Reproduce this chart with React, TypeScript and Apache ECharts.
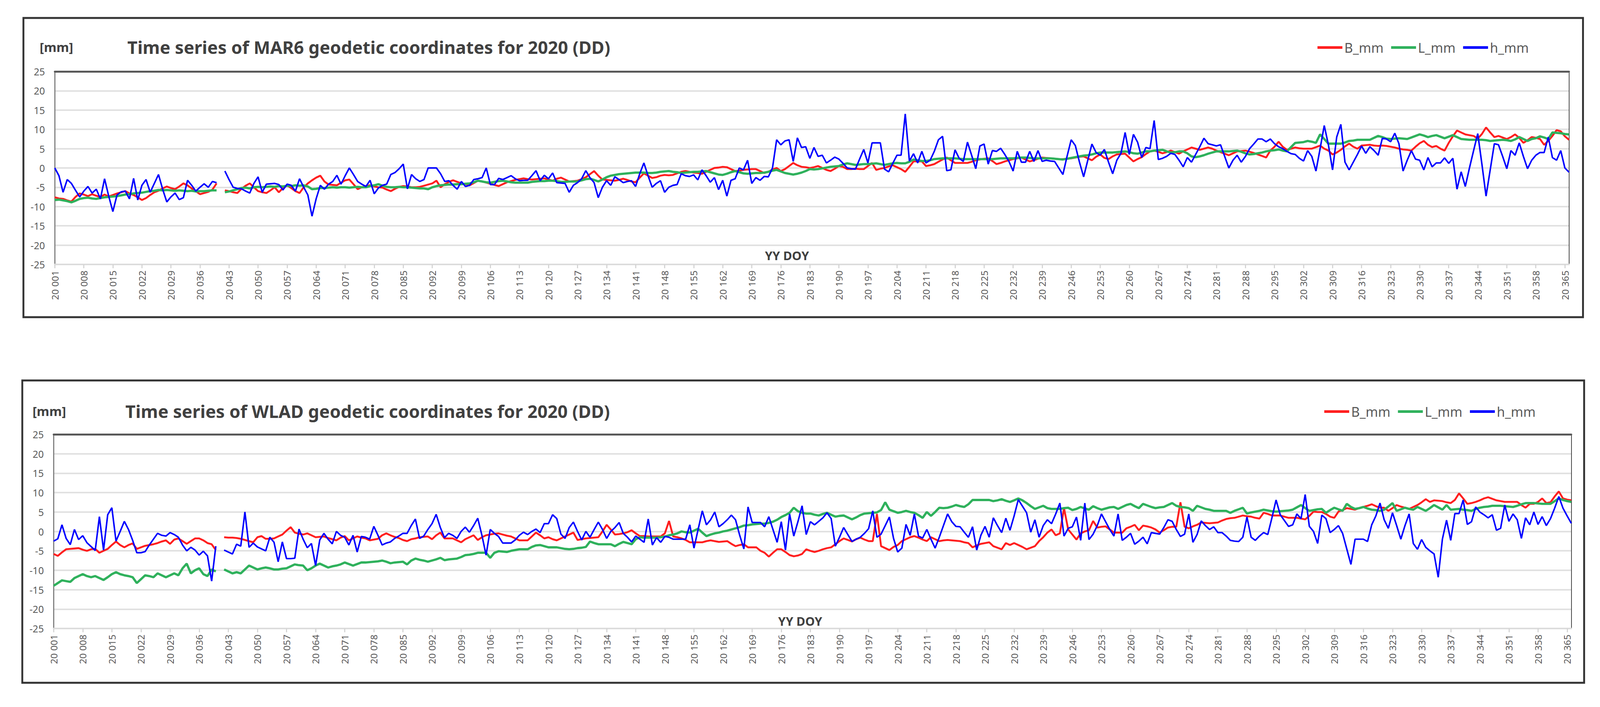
import React, { useEffect, useRef } from 'react';
import * as echarts from 'echarts';

// ---------- categories (day of year 2020, leap year) ----------
const DAYS: string[] = Array.from({ length: 366 }, (_, i) => `20 ${String(i + 1).padStart(3, '0')}`);
const SERIES_NAMES = ['B_mm', 'L_mm', 'h_mm'];
const Y_MIN = -25;
const Y_MAX = 25;
const Y_STEP = 5;

// ---------- MAR6 ----------
const MAR6_B: (number | null)[] = [
  -7.6,-7.9,-8.0,-8.4,-8.7,-7.5,-6.6,-6.9,-7.3,-6.8,
  -7.2,-7.5,-6.9,-7.4,-7.0,-6.6,-6.3,-6.0,-6.6,-7.0,
  -7.6,-8.3,-7.8,-7.0,-6.3,-5.9,-5.3,-4.8,-5.2,-5.5,
  -4.8,-4.0,-4.5,-5.3,-6.0,-6.8,-6.5,-6.2,-5.6,-4.0,
  null,-5.8,-6.0,-6.3,-6.5,-5.4,-4.6,-4.0,-5.0,-6.0,
  -6.3,-6.5,-5.8,-5.0,-6.3,-5.2,-4.5,-5.2,-6.0,-6.5,
  -5.0,-4.0,-3.2,-2.5,-2.0,-3.5,-4.3,-4.4,-4.5,-3.8,
  -3.2,-3.0,-4.2,-5.5,-5.0,-4.7,-4.5,-4.8,-5.0,-5.1,
  -5.6,-6.0,-5.4,-4.9,-4.7,-4.8,-5.0,-5.0,-4.9,-4.6,
  -4.3,-4.0,-3.3,-5.0,-4.2,-3.6,-3.2,-3.6,-4.0,-4.2,
  -4.5,-3.9,-3.3,-3.5,-3.8,-4.1,-4.4,-4.7,-4.2,-3.7,
  -3.4,-3.1,-2.9,-2.7,-2.9,-3.0,-2.9,-2.8,-2.7,-3.0,
  -3.3,-2.8,-2.5,-3.0,-3.5,-3.4,-3.3,-2.9,-2.4,-1.6,
  -0.8,-2.0,-3.0,-3.1,-3.2,-3.3,-3.1,-2.8,-3.1,-3.5,
  -3.7,-2.5,-1.4,-2.0,-2.6,-2.4,-2.0,-1.8,-1.9,-1.8,
  -1.4,-1.0,-0.8,-1.0,-1.2,-1.3,-1.5,-1.0,-0.5,0.0,
  0.1,0.3,0.2,-0.3,-0.8,-0.7,-0.5,-0.4,-0.3,-0.3,
  -0.8,-1.3,-1.0,-0.4,0.0,-0.8,-0.3,0.5,1.3,0.7,
  0.3,0.2,0.0,0.2,0.5,0.0,-0.5,-0.8,-0.2,0.5,
  0.3,-0.3,-0.3,-0.2,-0.3,-0.3,0.5,1.3,-0.5,-0.2,
  0.0,0.4,0.7,0.2,-0.3,-1.0,0.3,1.7,1.7,1.7,
  0.5,0.7,1.0,1.6,2.2,2.7,2.0,1.3,1.3,1.3,
  1.3,1.6,2.0,2.2,2.4,2.5,1.8,1.0,1.3,1.7,
  2.0,2.3,2.5,2.7,2.2,1.7,2.0,2.4,2.7,2.6,
  2.5,2.4,2.3,2.3,2.4,2.5,2.7,2.9,3.0,2.5,
  2.0,2.9,3.5,2.6,2.3,3.0,3.5,3.6,3.7,2.7,
  1.7,2.3,2.8,3.6,4.3,4.5,4.2,3.8,4.1,4.5,
  4.1,3.7,4.3,4.8,5.3,5.0,4.7,5.0,5.3,5.0,
  4.5,4.1,3.7,3.3,3.8,4.3,4.4,4.5,4.2,3.9,
  3.5,3.1,2.7,4.5,5.5,6.8,5.5,4.7,5.0,5.3,
  5.1,5.0,5.0,5.0,5.4,5.8,5.0,4.5,3.5,4.0,
  4.7,5.6,6.3,5.5,5.0,5.8,5.9,6.0,5.8,5.7,
  5.8,5.7,5.5,5.3,5.0,4.8,4.7,4.5,5.5,6.4,
  7.0,6.0,5.4,5.7,5.0,4.5,6.5,8.2,9.7,9.2,
  8.7,8.5,8.3,7.6,8.8,10.5,9.2,8.0,8.3,7.9,
  7.5,8.0,8.7,7.8,6.5,7.2,8.0,7.8,7.5,6.0,
  7.0,8.3,9.8,9.5,8.2,7.3,
];

const MAR6_L: (number | null)[] = [
  -8.3,-8.2,-8.4,-8.6,-8.9,-8.5,-8.0,-7.8,-7.7,-7.9,
  -8.0,-7.8,-7.6,-7.5,-7.4,-7.3,-7.1,-6.9,-6.8,-6.6,
  -6.5,-6.4,-6.2,-6.0,-5.9,-5.7,-5.8,-5.7,-5.8,-5.9,
  -5.8,-5.9,-6.0,-5.9,-6.1,-6.0,-6.0,-5.9,-5.8,-5.8,
  null,-6.3,-6.1,-5.8,-5.5,-5.2,-5.1,-5.3,-5.0,-4.9,
  -5.0,-4.9,-4.8,-4.9,-4.7,-4.8,-4.6,-4.7,-4.5,-4.6,
  -4.5,-4.8,-5.5,-5.4,-5.2,-5.2,-5.1,-5.0,-5.1,-5.0,
  -5.0,-5.1,-5.0,-4.9,-5.0,-5.0,-4.7,-4.5,-4.2,-4.6,
  -4.9,-5.0,-5.0,-4.9,-5.0,-5.0,-5.1,-5.2,-5.3,-5.3,
  -5.5,-5.0,-4.7,-4.5,-4.4,-4.3,-4.3,-4.2,-4.2,-4.1,
  -4.0,-3.7,-3.3,-3.5,-3.7,-3.8,-3.6,-3.4,-3.3,-3.5,
  -3.7,-3.8,-3.8,-3.8,-3.8,-3.6,-3.5,-3.4,-3.4,-3.3,
  -3.3,-3.4,-3.6,-3.6,-3.5,-3.5,-3.5,-3.2,-2.9,-2.8,
  -3.1,-3.5,-3.0,-2.4,-2.0,-1.8,-1.6,-1.5,-1.4,-1.3,
  -1.2,-1.2,-1.2,-1.3,-1.3,-1.2,-1.0,-0.9,-0.8,-1.0,
  -1.1,-1.3,-1.2,-1.1,-1.0,-1.0,-0.9,-0.8,-1.1,-1.4,
  -1.7,-1.8,-1.5,-1.1,-0.8,-1.1,-1.4,-1.5,-1.4,-1.3,
  -1.3,-1.2,-1.0,-0.7,-0.5,-0.9,-1.3,-1.5,-1.7,-1.5,
  -1.2,-0.8,-0.3,-0.4,-0.3,-0.1,0.1,0.3,0.4,0.5,
  0.9,1.2,1.0,0.8,0.9,1.0,1.0,1.1,1.2,1.0,
  0.8,1.0,1.2,1.3,1.2,1.2,1.6,2.2,2.0,1.8,
  1.8,2.0,2.3,2.4,2.5,2.5,2.5,2.5,2.4,2.3,
  2.3,2.3,2.3,2.3,2.3,2.3,2.3,2.4,2.5,2.5,
  2.5,2.5,2.6,2.7,2.7,2.6,2.5,2.5,2.5,2.5,
  2.5,2.4,2.3,2.2,2.4,2.6,2.8,3.0,3.2,3.3,
  3.5,3.8,4.0,4.0,4.0,4.0,4.1,4.2,4.3,4.1,
  3.8,3.7,4.0,4.3,4.3,4.5,4.6,4.7,4.3,4.0,
  4.1,4.3,4.3,3.8,3.0,2.8,3.0,3.3,3.7,4.0,
  4.3,4.3,4.3,4.3,4.4,4.5,4.2,3.8,3.5,3.6,
  3.8,4.0,4.3,4.5,4.6,4.8,4.5,4.3,5.4,6.5,
  6.6,6.7,7.0,6.8,6.5,8.7,7.5,6.3,6.3,6.3,
  6.3,6.6,7.0,7.1,7.3,7.3,7.3,7.3,7.8,8.3,
  8.0,7.6,7.5,7.6,7.7,7.6,7.5,7.9,8.3,8.7,
  8.4,8.0,8.3,8.5,8.1,7.7,8.1,8.5,8.0,7.5,
  7.4,7.3,7.3,7.3,7.3,7.2,7.0,7.1,7.2,7.3,
  7.2,7.0,7.4,8.0,7.5,7.0,7.5,7.7,8.2,7.9,
  7.5,9.2,9.1,9.0,8.8,8.7,
];

const MAR6_H: (number | null)[] = [
  0.0,-2.0,-6.3,-3.0,-4.0,-5.8,-7.5,-6.0,-4.8,-6.5,
  -5.5,-8.0,-2.8,-7.3,-11.3,-7.0,-6.2,-6.0,-8.0,-2.7,
  -8.3,-4.5,-3.0,-6.3,-4.0,-1.7,-5.5,-8.8,-7.5,-6.5,
  -8.2,-7.7,-3.2,-4.5,-6.0,-5.0,-4.1,-5.0,-3.5,-3.8,
  null,-0.8,-3.0,-5.0,-5.3,-5.4,-6.0,-6.5,-4.0,-2.3,
  -6.3,-4.2,-4.1,-4.0,-4.3,-5.7,-4.2,-4.5,-6.0,-2.8,
  -5.0,-7.0,-12.5,-8.0,-4.5,-5.5,-4.2,-3.5,-1.9,-4.2,
  -2.0,0.0,-1.7,-3.5,-4.2,-4.8,-3.2,-6.7,-5.2,-4.5,
  -4.2,-1.7,-1.2,-0.2,1.0,-5.4,-1.7,-2.8,-3.5,-3.0,
  0.0,0.0,0.0,-1.5,-3.5,-3.3,-4.5,-5.5,-3.5,-4.8,
  -4.5,-3.0,-2.8,-2.5,0.0,-4.3,-4.3,-2.7,-3.0,-2.5,
  -2.0,-2.8,-3.3,-3.2,-3.2,-2.0,-0.7,-3.3,-1.9,-2.8,
  -1.3,-3.8,-3.9,-4.0,-6.3,-4.5,-3.8,-2.8,-0.7,-2.5,
  -3.8,-7.7,-5.0,-3.3,-4.5,-2.3,-3.0,-3.8,-3.5,-3.3,
  -4.8,-1.5,1.3,-2.0,-5.0,-4.0,-3.3,-6.3,-5.0,-4.5,
  -4.3,-1.5,-2.0,-2.2,-1.8,-3.1,-0.5,-2.0,-3.7,-2.5,
  -5.6,-3.2,-7.3,-3.2,-2.8,0.0,-0.5,2.0,-4.0,-2.5,
  -3.2,-2.2,-2.3,0.0,7.3,6.0,7.0,7.3,1.7,7.8,
  5.3,5.5,2.5,5.3,3.0,3.3,1.3,2.0,2.8,2.3,
  1.2,0.0,-0.2,-0.3,2.3,4.8,1.3,6.5,6.5,6.5,
  -0.3,-1.0,1.2,3.3,3.3,14.0,1.8,3.7,1.3,4.3,
  1.3,2.0,4.3,7.3,8.2,-0.7,-0.5,4.7,2.5,1.7,
  6.7,3.3,-0.2,5.7,6.2,1.0,4.5,4.3,5.1,3.5,
  1.7,-0.8,4.3,1.5,1.5,4.3,1.7,4.5,1.7,2.0,
  1.8,1.7,0.0,-1.7,3.0,7.3,5.8,1.5,-2.3,2.0,
  6.2,4.0,3.3,4.8,1.5,-1.5,2.0,3.8,9.2,3.5,
  8.7,6.7,2.7,5.3,5.0,12.3,2.2,2.5,3.0,3.8,
  3.5,2.0,0.3,2.7,1.5,3.5,5.5,7.7,6.3,6.0,
  5.7,6.0,3.0,0.0,2.0,3.3,1.5,3.0,5.0,6.2,
  7.5,7.5,6.8,7.5,6.3,5.5,5.0,4.3,3.7,3.5,
  2.5,1.8,4.5,3.0,-0.8,5.0,11.0,6.0,-0.5,8.0,
  11.3,1.5,-0.5,1.5,3.5,5.7,3.8,5.5,4.5,3.3,
  7.7,7.5,6.8,9.0,6.3,-0.8,2.0,4.5,2.3,2.0,
  -0.5,2.7,0.3,1.3,1.3,2.6,1.2,2.5,-5.5,-1.0,
  -4.8,0.0,4.5,8.9,1.0,-7.3,-0.5,6.3,6.0,3.0,
  -0.2,4.5,3.3,6.5,3.0,-0.2,2.0,3.3,4.0,4.0,
  8.0,2.7,2.0,4.5,0.0,-1.1,
];

// ---------- WLAD ----------
const WLAD_B: (number | null)[] = [
  -5.8,-6.3,-5.4,-4.6,-4.5,-4.4,-4.3,-4.7,-5.0,-4.6,
  -4.5,-5.5,-5.0,-4.5,-3.5,-2.6,-3.5,-4.1,-3.5,-3.1,
  -4.5,-4.1,-3.7,-3.5,-3.3,-3.0,-2.6,-2.3,-3.2,-2.1,
  -1.8,-2.5,-3.2,-2.5,-1.8,-1.8,-2.3,-3.0,-3.3,-4.8,
  null,-1.5,-1.6,-1.6,-1.7,-1.9,-2.2,-2.5,-2.8,-1.5,
  -1.2,-1.9,-1.9,-1.8,-1.3,-0.8,0.2,1.1,-0.3,-0.6,
  -0.8,-0.5,-1.0,-1.5,-1.4,-1.3,-1.7,-2.0,-2.3,-1.6,
  -1.2,-2.3,-1.8,-1.3,-1.6,-1.8,-2.3,-2.1,-1.9,-1.0,
  -0.5,-1.0,-1.4,-1.7,-2.2,-2.5,-2.0,-1.8,-1.5,-1.4,
  -1.3,-2.0,-1.0,-0.3,-1.8,-1.8,-1.8,-2.3,-2.8,-2.0,
  -1.5,-1.0,-2.2,-1.5,-1.0,-0.8,-0.6,-0.5,-0.8,-1.1,
  -1.3,-1.8,-2.3,-2.3,-2.3,-1.3,-0.3,-1.0,-1.8,-1.5,
  -2.0,-2.3,-1.8,-1.3,-0.8,-0.3,-2.2,-2.0,-1.8,-1.7,
  -1.6,-1.5,0.0,1.7,0.5,-0.8,-0.7,-0.5,-0.2,0.3,
  -0.5,-1.2,-1.2,-1.3,-1.3,-1.3,-1.3,-0.5,2.7,-1.3,
  -1.5,-1.8,-2.2,-2.8,-2.8,-2.8,-2.8,-2.5,-2.3,-2.5,
  -2.7,-2.6,-2.5,-3.2,-3.8,-3.5,-3.3,-4.1,-4.1,-4.1,
  -5.0,-5.5,-6.5,-5.5,-4.6,-4.6,-5.3,-6.1,-6.4,-6.2,
  -5.8,-4.6,-5.0,-5.3,-5.0,-4.6,-4.3,-4.1,-3.3,-2.5,
  -1.8,-2.2,-2.6,-2.0,-1.6,-2.1,-2.5,-2.5,4.5,-3.8,
  -4.3,-4.8,-4.0,-3.5,-2.5,-2.0,-1.5,-1.2,-1.6,-2.1,
  -2.5,-1.5,-2.0,-2.5,-2.3,-2.2,-2.3,-2.4,-2.5,-2.8,
  -3.0,-4.1,-3.6,-3.2,-3.0,-2.8,-3.8,-4.2,-4.6,-3.0,
  -3.5,-3.0,-3.5,-4.0,-4.6,-4.2,-3.8,-2.5,-1.5,-0.3,
  0.5,-1.0,-0.5,6.0,0.5,-0.8,-2.1,-0.5,0.0,0.3,
  2.7,1.0,1.2,1.3,0.5,-0.3,-0.3,-0.3,0.8,1.2,
  1.7,0.3,1.5,1.3,1.0,0.5,-0.3,0.3,1.0,1.2,
  1.2,7.5,1.2,0.8,1.3,1.7,2.3,2.2,2.1,2.2,
  2.3,2.8,3.2,3.4,3.5,3.8,4.1,3.9,3.8,3.5,
  3.3,4.8,4.5,4.1,4.1,4.1,3.8,3.5,3.5,3.5,
  3.3,3.1,4.0,5.1,5.0,5.0,4.5,3.8,3.5,5.1,
  5.5,6.0,5.8,5.6,6.0,6.3,6.6,7.0,6.5,6.1,
  6.1,5.3,6.0,6.8,6.4,6.1,5.8,6.3,6.8,7.5,
  8.3,7.6,8.0,7.9,7.8,7.5,7.3,8.1,9.8,8.5,
  7.1,7.3,7.6,8.0,8.5,8.8,8.4,8.0,7.8,7.6,
  7.6,7.6,7.6,6.8,6.1,7.1,7.1,7.6,8.5,7.3,
  7.5,9.0,10.3,8.5,8.2,8.0,
];

const WLAD_L: (number | null)[] = [
  -14.0,-13.3,-12.6,-12.8,-13.0,-12.0,-11.5,-11.0,-11.5,-11.8,
  -11.5,-12.0,-12.5,-11.8,-11.0,-10.5,-11.0,-11.3,-11.5,-11.8,
  -13.3,-12.3,-11.3,-11.5,-11.8,-10.8,-11.3,-11.8,-11.3,-10.8,
  -11.3,-9.5,-8.3,-10.8,-10.0,-9.5,-11.0,-11.5,-9.8,-10.3,
  null,-9.8,-10.3,-10.8,-10.5,-10.8,-9.8,-8.8,-9.3,-9.8,
  -9.5,-9.3,-9.5,-9.8,-9.8,-9.6,-9.5,-9.0,-8.5,-8.7,
  -8.8,-10.0,-9.5,-8.8,-8.3,-8.8,-9.3,-9.0,-8.8,-8.5,
  -8.0,-8.4,-8.8,-8.4,-8.0,-8.0,-7.9,-7.8,-7.7,-7.5,
  -7.8,-8.2,-8.0,-7.9,-7.8,-8.5,-7.5,-7.0,-7.3,-7.5,
  -7.8,-7.5,-7.2,-6.8,-7.4,-7.2,-7.1,-7.0,-6.6,-6.1,
  -6.0,-5.8,-5.5,-5.5,-5.5,-6.8,-5.5,-5.1,-5.2,-5.3,
  -5.0,-4.8,-4.6,-4.6,-4.6,-4.0,-3.6,-3.5,-3.8,-4.1,
  -4.1,-4.1,-4.3,-4.5,-4.6,-4.5,-4.3,-4.2,-4.0,-2.6,
  -3.0,-3.3,-3.3,-3.3,-3.3,-3.8,-3.2,-2.7,-3.0,-3.3,
  -2.0,-1.5,-1.6,-1.6,-1.6,-1.6,-1.5,-1.3,-1.0,-0.8,
  -0.5,0.0,-0.2,-0.3,0.2,0.7,-0.3,-1.2,-0.8,-0.5,
  -0.3,0.0,0.2,0.5,0.8,1.1,1.5,1.6,1.8,1.9,
  2.0,2.0,2.2,2.5,3.0,3.7,4.2,4.8,6.1,5.2,
  4.8,4.6,4.6,4.3,4.1,4.5,4.8,4.3,3.8,4.0,
  4.1,3.6,3.1,3.6,4.2,4.6,4.7,4.8,4.9,5.5,
  7.5,5.6,5.2,4.8,5.0,5.3,5.0,4.8,4.2,3.5,
  5.0,4.0,5.0,6.1,6.0,6.1,6.4,6.8,6.5,6.3,
  7.0,8.1,8.1,8.1,8.1,8.1,7.8,8.0,8.3,7.9,
  7.6,8.0,8.5,8.0,7.3,6.5,5.8,6.2,6.6,6.0,
  5.8,5.8,5.8,6.0,6.1,5.5,5.8,6.3,5.9,5.6,
  6.5,6.0,5.6,5.9,6.2,6.3,5.8,6.3,6.8,7.1,
  6.5,6.0,7.1,6.7,6.3,6.0,6.2,6.3,6.8,7.3,
  6.6,6.3,6.2,6.0,5.3,6.6,6.2,5.8,5.6,5.3,
  5.3,5.3,5.3,4.8,5.3,5.7,6.1,4.6,4.9,5.1,
  5.3,5.6,5.4,5.2,5.1,5.2,5.3,5.4,5.6,6.2,
  6.8,6.0,5.3,5.5,5.7,5.8,4.8,5.5,6.1,5.7,
  5.3,7.1,6.3,5.8,6.0,6.3,5.9,5.6,5.5,5.3,
  5.6,6.4,7.3,5.3,5.7,6.1,5.8,5.6,6.3,5.8,
  5.3,6.0,6.8,6.2,5.6,6.8,5.6,5.7,5.8,5.6,
  5.5,5.3,5.8,6.1,6.3,6.4,6.6,6.6,6.6,6.5,
  6.4,6.3,6.6,7.0,7.3,7.3,7.3,7.2,7.1,7.1,
  7.1,7.8,8.5,8.1,7.8,7.6,
];

const WLAD_H: (number | null)[] = [
  -2.5,-1.9,1.7,-1.8,-3.4,0.5,-2.1,-1.1,-2.9,-3.9,
  -4.9,3.8,-4.8,4.3,6.1,-2.5,0.0,2.6,0.5,-2.3,
  -5.5,-5.5,-5.2,-3.5,-2.0,-0.5,-1.0,-1.2,-0.3,-0.8,
  -1.5,-3.5,-5.0,-4.1,-4.8,-6.1,-5.1,-6.3,-12.8,-3.8,
  null,-4.8,-5.3,-5.8,-3.3,-3.8,5.0,-4.1,-3.0,-4.0,
  -4.5,-5.0,-1.5,-2.8,-7.8,-2.7,-7.0,-7.0,-6.9,0.6,
  -2.0,-4.2,-3.1,-8.8,-2.2,-0.5,-2.0,-3.2,0.0,-1.0,
  -1.5,-3.5,-1.0,-5.3,-1.3,-1.5,-2.0,1.3,-1.0,-3.5,
  -3.0,-2.7,-1.8,-1.2,-0.5,-0.5,1.5,3.2,-1.8,-1.2,
  0.5,2.0,4.4,1.0,-1.6,-0.5,-1.0,-1.8,0.0,1.1,
  -0.2,1.5,3.4,-1.0,-6.1,0.5,-0.5,-1.3,-3.0,-3.0,
  -3.0,-2.2,-1.0,-0.2,-0.8,0.0,0.6,-0.3,2.0,2.0,
  4.3,3.3,-0.7,-1.8,1.0,2.4,0.0,-2.2,0.0,-1.5,
  0.5,2.4,0.5,-1.8,0.0,1.0,2.3,-0.5,-1.5,-2.7,
  -1.2,-2.0,-2.8,3.2,-3.5,-1.6,-2.8,-1.3,-1.5,-2.0,
  -2.0,-2.0,-2.0,1.7,-4.3,0.5,5.3,1.7,3.0,5.0,
  1.2,2.0,3.0,4.2,3.0,-1.0,-4.5,6.3,2.3,2.3,
  2.3,1.2,3.8,0.5,-2.8,2.5,-4.8,4.5,-1.2,2.5,
  6.6,-0.8,2.5,1.7,2.6,3.5,4.8,3.3,-3.8,-1.5,
  1.0,-0.8,-2.6,-2.0,-1.5,-0.5,0.7,5.3,-1.5,-0.7,
  1.5,3.7,-1.8,-5.3,-4.3,1.8,-1.0,4.5,-1.2,-1.7,
  0.5,-2.0,-4.3,-1.5,1.5,4.5,2.5,1.3,1.2,-0.2,
  -1.5,1.2,-4.8,-1.0,1.3,-1.5,3.5,1.5,-0.3,3.4,
  0.3,4.0,8.2,6.5,4.8,-0.2,3.0,-1.5,1.5,3.0,
  2.0,4.5,7.3,-1.2,0.8,1.2,3.7,-2.3,7.3,-2.1,
  -0.7,1.5,4.5,2.5,0.5,-1.2,4.5,-2.3,-1.5,-0.5,
  -3.3,-2.5,-1.5,-3.2,-0.3,-0.5,-0.7,1.0,3.0,2.6,
  0.5,-1.3,-0.7,4.5,-2.8,-0.8,2.7,1.5,0.5,1.2,
  -0.3,-0.3,-1.2,-2.3,-2.5,-2.6,-1.5,3.7,-1.5,-2.3,
  -1.2,-0.3,-0.8,3.5,8.1,4.3,2.8,1.3,1.7,4.5,
  3.3,9.5,1.3,0.0,-3.1,4.2,3.3,-0.3,0.5,1.5,
  -0.5,-4.5,-8.5,-2.0,-2.0,-2.0,-2.6,1.7,4.0,7.3,
  3.0,0.8,4.8,1.5,-2.0,1.5,4.5,-3.1,-4.6,-2.1,
  -4.1,-5.0,-5.8,-11.8,-2.0,2.9,-2.3,4.6,4.6,8.1,
  1.8,2.5,6.3,5.0,4.3,3.5,4.3,0.3,0.8,6.8,
  2.6,4.5,3.0,-1.8,3.5,1.7,5.0,1.8,3.8,1.5,
  3.3,6.0,9.0,6.0,4.0,2.1,
];

// ---------- layout / style (in reference pixels, scaled to the viewport) ----------
const BASE_W = 4235;
const BASE_H = 1810;
const COLORS = ['#ff1f1f', '#2fb15c', '#0000ff'];
const WIDTHS = [5, 6, 4];
const FONT = '"Noto Sans", "DejaVu Sans", sans-serif';

const PANELS = [
  {
    station: 'MAR6',
    data: [MAR6_B, MAR6_L, MAR6_H],
    box: { x: 62, y: 46, w: 4128, h: 766 },
    grid: { left: 145, top: 183, width: 4008, height: 494 },
    mmX: 105, titleX: 337, headY: 120, legendX: 3482, doyX: 2083, doyY: 654,
  },
  {
    station: 'WLAD',
    data: [WLAD_B, WLAD_L, WLAD_H],
    box: { x: 59, y: 974, w: 4134, h: 774 },
    grid: { left: 142, top: 1112, width: 4017, height: 497 },
    mmX: 86, titleX: 332, headY: 1052, legendX: 3500, doyX: 2118, doyY: 1590,
  },
];

export default function App() {
  const ref = useRef<HTMLDivElement>(null);

  useEffect(() => {
    document.body.style.margin = '0';
    document.body.style.overflow = 'hidden';
    if (!ref.current) return;
    const chart = echarts.init(ref.current, null, { renderer: 'svg' });
    const sx = chart.getWidth() / BASE_W;
    const sy = chart.getHeight() / BASE_H;
    const s = Math.min(sx, sy);
    const X = (v: number) => v * sx;
    const Y = (v: number) => v * sy;
    const F = (v: number) => Math.round(v * s * 10) / 10;

    const grids: any[] = [];
    const xAxes: any[] = [];
    const yAxes: any[] = [];
    const series: any[] = [];
    const legends: any[] = [];
    const graphics: any[] = [];

    PANELS.forEach((p, k) => {
      grids.push({
        left: X(p.grid.left), top: Y(p.grid.top), width: X(p.grid.width), height: Y(p.grid.height),
        containLabel: false,
      });
      xAxes.push({
        type: 'category', gridIndex: k, data: DAYS, boundaryGap: false, position: 'bottom',
        axisLine: { show: true, onZero: false, lineStyle: { color: '#dcdcdc', width: F(4) } },
        axisTick: { show: true, interval: 6, length: F(10), lineStyle: { color: '#d4d4d4', width: F(3) } },
        axisLabel: { interval: 6, rotate: 90, fontSize: F(25), color: '#595959', margin: F(16), fontFamily: FONT },
        splitLine: { show: false },
      });
      xAxes.push({
        type: 'category', gridIndex: k, data: DAYS, boundaryGap: false, position: 'top',
        axisLine: { show: true, onZero: false, lineStyle: { color: '#595959', width: F(5) } },
        axisTick: { show: false }, axisLabel: { show: false }, splitLine: { show: false },
      });
      yAxes.push({
        type: 'value', gridIndex: k, min: Y_MIN, max: Y_MAX, interval: Y_STEP, position: 'left',
        axisLine: { show: true, onZero: false, lineStyle: { color: '#7f7f7f', width: F(3) } },
        axisTick: { show: false },
        axisLabel: { fontSize: F(26), color: '#595959', margin: F(26), fontFamily: FONT },
        splitLine: { show: true, lineStyle: { color: '#e1e1e1', width: F(4) } },
      });
      yAxes.push({
        type: 'value', gridIndex: k, min: Y_MIN, max: Y_MAX, interval: Y_STEP, position: 'right',
        axisLine: { show: true, onZero: false, lineStyle: { color: '#404040', width: F(2) } },
        axisTick: { show: false }, axisLabel: { show: false }, splitLine: { show: false },
      });
      p.data.forEach((arr, j) => {
        series.push({
          name: SERIES_NAMES[j], type: 'line', xAxisIndex: k * 2, yAxisIndex: k * 2,
          data: arr, showSymbol: false, symbol: 'none', connectNulls: false,
          lineStyle: { color: COLORS[j], width: F(WIDTHS[j]) }, itemStyle: { color: COLORS[j] },
          z: 2 + j,
        });
      });
      legends.push({
        data: SERIES_NAMES, left: X(p.legendX), top: Y(p.headY) - F(21), icon: 'rect',
        itemWidth: F(66), itemHeight: F(7), itemGap: F(20), selectedMode: false,
        textStyle: { fontSize: F(35), color: '#595959', fontFamily: FONT },
      });
      graphics.push({
        type: 'rect', z: -1, silent: true,
        shape: { x: X(p.box.x), y: Y(p.box.y), width: X(p.box.w), height: Y(p.box.h) },
        style: { fill: '#ffffff', stroke: '#333333', lineWidth: F(5) },
      });
      graphics.push({
        type: 'text', z: 10, x: X(p.mmX), y: Y(p.headY),
        style: { text: '[mm]', font: `bold ${F(34)}px ${FONT}`, fill: '#404040', textAlign: 'left', textVerticalAlign: 'middle' },
      });
      graphics.push({
        type: 'text', z: 10, x: X(p.titleX), y: Y(p.headY),
        style: {
          text: `Time series of ${p.station} geodetic coordinates for 2020 (DD)`,
          font: `bold ${F(46.5)}px ${FONT}`, fill: '#404040', textAlign: 'left', textVerticalAlign: 'middle',
        },
      });
      graphics.push({
        type: 'text', z: 10, x: X(p.doyX), y: Y(p.doyY),
        style: { text: 'YY DOY', font: `bold ${F(32)}px ${FONT}`, fill: '#404040', textAlign: 'center', textVerticalAlign: 'middle' },
      });
    });

    chart.setOption({
      animation: false,
      backgroundColor: '#ffffff',
      grid: grids,
      xAxis: xAxes,
      yAxis: yAxes,
      legend: legends,
      series,
      graphic: { elements: graphics },
    });

    const onResize = () => chart.resize();
    window.addEventListener('resize', onResize);
    return () => {
      window.removeEventListener('resize', onResize);
      chart.dispose();
    };
  }, []);

  return <div ref={ref} style={{ position: 'fixed', left: 0, top: 0, width: '100vw', height: '100vh' }} />;
}
